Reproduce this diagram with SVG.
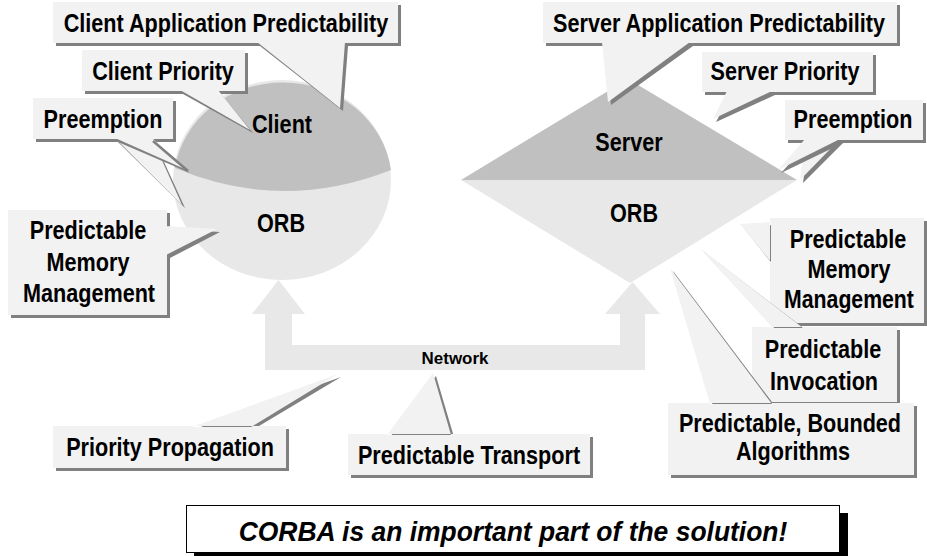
<svg xmlns="http://www.w3.org/2000/svg" width="927" height="556" viewBox="0 0 927 556">
  <style>
    .sh { fill: #808080; }
    .co { fill: #f2f2f2; }
    .dark { fill: #c0c0c0; }
    .light { fill: #e8e8e8; }
    .lb { font-family: "Liberation Sans", Arial, sans-serif; font-weight: bold; font-size: 25px; fill: #000; text-anchor: middle; }
    .sm { font-family: "Liberation Sans", Arial, sans-serif; font-weight: bold; font-size: 16px; fill: #000; text-anchor: middle; }
    .ban { font-family: "Liberation Sans", Arial, sans-serif; font-weight: bold; font-style: italic; font-size: 28px; fill: #000; text-anchor: middle; }
  </style>
  <rect width="927" height="556" fill="#ffffff"/>

  <!-- network block arrow between the two ORBs -->
  <g id="connectors">
    <path class="light" d="M265,370 L265,314 L252,314 L278.5,280 L305,314 L292,314 L292,345 L620,345 L620,314 L605,314 L632.5,282 L660,314 L645,314 L645,370 Z"/>
    <text class="sm" transform="matrix(1.06,0,0,1,455,364)">Network</text>
  </g>

  <!-- client sphere: application on top, ORB below -->
  <g id="client">
    <ellipse class="light" cx="282" cy="180" rx="109" ry="100"/>
    <path class="dark" d="M175,168 Q282,213 391,170 A109,100 0 0 0 175,168 Z"/>
    <text class="lb" transform="matrix(0.865,0,0,1,282,133)">Client</text>
    <text class="lb" transform="matrix(0.865,0,0,1,281,232)">ORB</text>
  </g>

  <!-- server diamond: application on top, ORB below -->
  <g id="server">
    <polygon class="dark" points="461,180 628,79 797,180"/>
    <polygon class="light" points="461,180 797,180 630,283"/>
    <text class="lb" transform="matrix(0.865,0,0,1,629,151)">Server</text>
    <text class="lb" transform="matrix(0.865,0,0,1,634,222)">ORB</text>
  </g>

  <!-- callouts: shadow copy offset by 3px, then the light body -->
  <g id="client-app">
    <path class="sh" transform="translate(3,3)" d="M53,2 H398 V43 H53 Z M257,43 L345,43 L340,108 Z"/>
    <path class="co" d="M53,2 H398 V43 H53 Z M257,42 L345,42 L340,108 Z"/>
    <text class="lb" transform="matrix(0.865,0,0,1,226,32)">Client Application Predictability</text>
  </g>

  <g id="client-priority">
    <path class="sh" transform="translate(3,3)" d="M82,50 H245 V91 H82 Z M180,91 L218,91 L250,130 Z"/>
    <path class="co" d="M82,50 H245 V91 H82 Z M180,90 L218,90 L250,130 Z"/>
    <text class="lb" transform="matrix(0.865,0,0,1,163,80)">Client Priority</text>
  </g>

  <g id="client-preemption">
    <path class="sh" transform="translate(3,3)" d="M115,139 L152,139 L182,205 Z"/>
    <path class="co" d="M115,138 L152,138 L182,205 Z"/>
    <path class="sh" transform="translate(3,3)" d="M33,98 H173 V139 H33 Z M115,139 L152,139 L187,170 Z"/>
    <path class="co" d="M33,98 H173 V139 H33 Z M115,138 L152,138 L187,170 Z"/>
    <line x1="153" y1="141" x2="188" y2="171" stroke="#808080" stroke-width="2.5"/>
    <text class="lb" transform="matrix(0.865,0,0,1,103,128)">Preemption</text>
  </g>

  <g id="client-memory">
    <path class="sh" transform="translate(3,3)" d="M8,210 H167 V315 H8 Z M167,226 L217,229 L167,255 Z"/>
    <path class="co" d="M8,210 H167 V315 H8 Z M166,226 L217,229 L166,255 Z"/>
    <text class="lb" transform="matrix(0.865,0,0,1,88,239)">Predictable</text>
    <text class="lb" transform="matrix(0.865,0,0,1,88,271)">Memory</text>
    <text class="lb" transform="matrix(0.865,0,0,1,89,302)">Management</text>
  </g>

  <g id="priority-propagation">
    <path class="sh" transform="translate(3,3)" d="M53,426 H286 V468 H53 Z M192,426 L251,426 L338,374 Z"/>
    <path class="co" d="M53,426 H286 V468 H53 Z M192,427 L251,427 L338,374 Z"/>
    <text class="lb" transform="matrix(0.865,0,0,1,170,456)">Priority Propagation</text>
  </g>

  <g id="predictable-transport">
    <path class="sh" transform="translate(3,3)" d="M348,434 H590 V475 H348 Z M387,434 L451,434 L433,373 Z"/>
    <path class="co" d="M348,434 H590 V475 H348 Z M387,435 L451,435 L433,373 Z"/>
    <text class="lb" transform="matrix(0.865,0,0,1,469,464)">Predictable Transport</text>
  </g>

  <g id="server-app">
    <path class="sh" transform="translate(3,3)" d="M543,2 H897 V43 H543 Z M602,43 L690,43 L608,102 Z"/>
    <path class="co" d="M543,2 H897 V43 H543 Z M602,42 L690,42 L608,102 Z"/>
    <text class="lb" transform="matrix(0.865,0,0,1,719,32)">Server Application Predictability</text>
  </g>

  <g id="server-priority">
    <path class="sh" transform="translate(3,3)" d="M702,52 H873 V92 H702 Z M727,92 L772,92 L713,119 Z"/>
    <path class="co" d="M702,52 H873 V92 H702 Z M727,91 L772,91 L713,119 Z"/>
    <text class="lb" transform="matrix(0.865,0,0,1,785,80)">Server Priority</text>
  </g>

  <g id="server-preemption">
    <path class="sh" transform="translate(3,3)" d="M805,140 L840,140 L800,180 Z"/>
    <path class="co" d="M805,139 L840,139 L800,180 Z"/>
    <path class="sh" transform="translate(3,3)" d="M785,100 H923 V140 H785 Z M805,140 L840,140 L778,170 Z"/>
    <path class="co" d="M785,100 H923 V140 H785 Z M805,139 L840,139 L778,170 Z"/>
    <text class="lb" transform="matrix(0.865,0,0,1,853,128)">Preemption</text>
  </g>

  <g id="server-memory">
    <path class="sh" transform="translate(3,3)" d="M770,218 H924 V323 H770 Z M770,222 L740,224 L770,262 Z"/>
    <path class="co" d="M770,218 H924 V323 H770 Z M771,222 L740,224 L771,262 Z"/>
    <text class="lb" transform="matrix(0.865,0,0,1,848,248)">Predictable</text>
    <text class="lb" transform="matrix(0.865,0,0,1,849,278)">Memory</text>
    <text class="lb" transform="matrix(0.85,0,0,1,849,308)">Management</text>
  </g>

  <g id="server-invocation">
    <path class="sh" transform="translate(3,3)" d="M752,327 H897 V402 H752 Z M773,327 L803,327 L700,248 Z"/>
    <path class="co" d="M752,327 H897 V402 H752 Z M773,328 L803,328 L700,248 Z"/>
    <text class="lb" transform="matrix(0.865,0,0,1,823,358)">Predictable</text>
    <text class="lb" transform="matrix(0.865,0,0,1,824,390)">Invocation</text>
  </g>

  <g id="server-algorithms">
    <path class="sh" transform="translate(3,3)" d="M668,403 H914 V475 H668 Z M710,403 L772,403 L670,268 Z"/>
    <path class="co" d="M668,403 H914 V475 H668 Z M710,404 L772,404 L670,268 Z"/>
    <text class="lb" transform="matrix(0.865,0,0,1,790,432)">Predictable, Bounded</text>
    <text class="lb" transform="matrix(0.865,0,0,1,793,460)">Algorithms</text>
  </g>

  <!-- closing banner with hard black shadow -->
  <g id="banner">
    <rect x="194" y="513" width="654" height="48" fill="#000"/>
    <rect x="186.5" y="505.5" width="653" height="47" fill="#fff" stroke="#000" stroke-width="1"/>
    <text class="ban" transform="matrix(0.945,0,0,1,513,541)">CORBA is an important part of the solution!</text>
  </g>
</svg>
